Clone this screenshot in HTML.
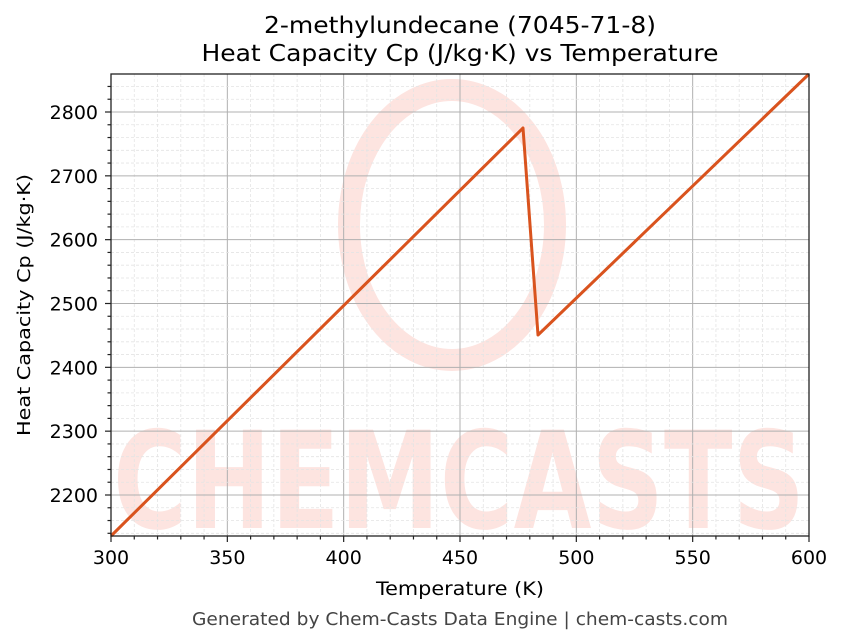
<!DOCTYPE html>
<html><head><meta charset="utf-8"><style>
html,body{margin:0;padding:0;background:#fff;width:843px;height:644px;overflow:hidden}
text{font-family:"DejaVu Sans","Liberation Sans",sans-serif}
</style></head><body>
<svg id="s" width="843" height="644" xmlns="http://www.w3.org/2000/svg">
<rect width="843" height="644" fill="#fff"/>
<g id="wm" fill="#fde4e0">
<ellipse cx="452" cy="225" rx="103" ry="135" fill="none" stroke="#fde4e0" stroke-width="22"/>
<text x="113" y="528" font-size="135" font-weight="bold" textLength="692" lengthAdjust="spacingAndGlyphs">CHEMCASTS</text>
</g>
<g id="grid"></g>
<polyline points="111,536 523,128 538,335 809,74" fill="none" stroke="#d9531e" stroke-width="3" stroke-linejoin="round"/>
<rect x="111" y="74" width="698" height="462" fill="none" stroke="#222" stroke-width="1.3"/>
<g id="ticks"></g>
<text x="460" y="33" font-size="23" text-anchor="middle" textLength="392" lengthAdjust="spacingAndGlyphs">2-methylundecane (7045-71-8)</text>
<text x="460" y="61" font-size="23" text-anchor="middle" textLength="517" lengthAdjust="spacingAndGlyphs">Heat Capacity Cp (J/kg·K) vs Temperature</text>
<text x="460" y="595" font-size="19" text-anchor="middle" textLength="168" lengthAdjust="spacingAndGlyphs">Temperature (K)</text>
<text transform="translate(30,305) rotate(-90)" font-size="18" text-anchor="middle" textLength="262" lengthAdjust="spacingAndGlyphs">Heat Capacity Cp (J/kg·K)</text>
<text x="460" y="625" font-size="17.5" fill="#444" text-anchor="middle" textLength="536" lengthAdjust="spacingAndGlyphs">Generated by Chem-Casts Data Engine | chem-casts.com</text>
</svg>
<script>
var ns="http://www.w3.org/2000/svg",g=document.getElementById('grid'),t=document.getElementById('ticks');
function el(p,n,a){var e=document.createElementNS(ns,n);for(var k in a)e.setAttribute(k,a[k]);p.appendChild(e);return e}
function X(v){return 111+(v-300)*698/300}
function Y(v){return 112+(2800-v)*383/600}
for(var v=300;v<=600;v+=10){var x=X(v),maj=v%50==0;
 el(g,'line',{x1:x,x2:x,y1:74,y2:536,stroke:maj?'#b0b0b0':'#e4e4e4','stroke-width':maj?1:0.8,'stroke-dasharray':maj?'':'3,2'});
 el(t,'line',{x1:x,x2:x,y1:536,y2:536+(maj?6:3.5),stroke:'#222','stroke-width':1.2});
 if(maj){var tx=el(t,'text',{x:x,y:564,'font-size':19,'text-anchor':'middle'});tx.textContent=v;}}
for(var v=2140;v<=2860;v+=20){var y=Y(v);if(y<74||y>536)continue;var maj=v%100==0;
 el(g,'line',{x1:111,x2:809,y1:y,y2:y,stroke:maj?'#b0b0b0':'#e4e4e4','stroke-width':maj?1:0.8,'stroke-dasharray':maj?'':'3,2'});
 el(t,'line',{x1:111-(maj?6:3.5),x2:111,y1:y,y2:y,stroke:'#222','stroke-width':1.2});
 if(maj){var tx=el(t,'text',{x:98,y:y+7,'font-size':19,'text-anchor':'end'});tx.textContent=v;}}
</script>
</body></html>
